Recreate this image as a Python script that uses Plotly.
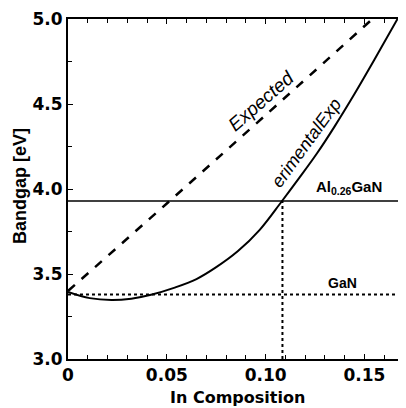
import plotly.graph_objects as go

# Data
exp_x = [0.0, 0.05, 0.10, 0.154]
exp_y = [3.40, 3.915, 4.435, 5.0]

meas_x = [0.0, 0.011, 0.022, 0.032, 0.042, 0.054, 0.065, 0.075, 0.086, 0.097,
          0.108, 0.117, 0.126, 0.135, 0.145, 0.155, 0.1667]
meas_y = [3.395, 3.358, 3.347, 3.355, 3.378, 3.42, 3.47, 3.54, 3.635, 3.76,
          3.925, 4.065, 4.21, 4.37, 4.56, 4.76, 5.0]

gan_bandgap = 3.38
algan_bandgap = 3.93
in_match = 0.1085

x_range = [0.0, 0.17]
y_range = [3.0, 5.0]
x_ticks = [0, 0.05, 0.10, 0.15]
x_ticklabels = ["0", "0.05", "0.10", "0.15"]
y_ticks = [3.0, 3.5, 4.0, 4.5, 5.0]
y_ticklabels = ["3.0", "3.5", "4.0", "4.5", "5.0"]

fig = go.Figure()

fig.add_trace(go.Scatter(x=x_range, y=[gan_bandgap, gan_bandgap], mode="lines",
                         line=dict(color="black", width=2, dash="dot"), showlegend=False))
fig.add_trace(go.Scatter(x=x_range, y=[algan_bandgap, algan_bandgap], mode="lines",
                         line=dict(color="black", width=1.5), showlegend=False))
fig.add_trace(go.Scatter(x=[in_match, in_match], y=[y_range[0], algan_bandgap], mode="lines",
                         line=dict(color="black", width=2, dash="dot"), showlegend=False))
fig.add_trace(go.Scatter(x=exp_x, y=exp_y, mode="lines", line_shape="spline",
                         line=dict(color="black", width=2.5, dash="dash"), showlegend=False))
fig.add_trace(go.Scatter(x=meas_x, y=meas_y, mode="lines", line_shape="spline",
                         line=dict(color="black", width=2), showlegend=False))

fig.add_annotation(x=0.098, y=4.52, text="<i>Expected</i>", showarrow=False, textangle=-41,
                   font=dict(family="Liberation Sans", size=19, color="black"))
fig.add_annotation(x=0.1205, y=4.27, text="<i>erimentalExp</i>", showarrow=False, textangle=-54,
                   font=dict(family="Liberation Sans", size=18, color="black"))
fig.add_annotation(x=0.1424, y=4.01, text="<b>Al<sub>0.26</sub>GaN</b>", showarrow=False,
                   font=dict(family="Liberation Sans", size=15, color="black"))
fig.add_annotation(x=0.139, y=3.447, text="<b>GaN</b>", showarrow=False,
                   font=dict(family="Liberation Sans", size=14, color="black"))

# axis titles
fig.add_annotation(xref="paper", yref="paper", x=0.503, y=-0.113, text="<b>In Composition</b>",
                   showarrow=False, xanchor="center", yanchor="middle",
                   font=dict(family="DejaVu Sans", size=16, color="black"))
fig.add_annotation(xref="paper", yref="paper", x=-0.143, y=0.509, text="<b>Bandgap [eV]</b>",
                   showarrow=False, xanchor="center", yanchor="middle", textangle=-90,
                   font=dict(family="Liberation Sans", size=18, color="black"))

axis_common = dict(showline=True, linecolor="black", linewidth=2, mirror="ticks",
                   ticks="inside", ticklen=5, tickwidth=1, tickcolor="black",
                   showgrid=False, zeroline=False, automargin=False,
                   tickfont=dict(family="DejaVu Sans", size=17, color="black", weight="bold"))

x_alias = {f"{v:.2f}": t for v, t in zip(x_ticks, x_ticklabels)}
y_alias = {f"{v:.1f}": t for v, t in zip(y_ticks, y_ticklabels)}

fig.update_xaxes(range=x_range, tickmode="linear", tick0=x_ticks[0], dtick=x_ticks[1] - x_ticks[0],
                 tickformat=".2f", labelalias=x_alias,
                 minor=dict(tick0=0, dtick=0.01, ticks="inside",
                            ticklen=4, tickcolor="black", tickwidth=1, showgrid=False),
                 **axis_common)
fig.update_yaxes(range=y_range, tickmode="linear", tick0=y_ticks[0], dtick=y_ticks[1] - y_ticks[0],
                 tickformat=".1f", labelalias=y_alias,
                 minor=dict(tick0=3.0, dtick=0.25, ticks="inside",
                            ticklen=4, tickcolor="black", tickwidth=1, showgrid=False),
                 **axis_common)

# page body adds an 8px offset; size/margins compensate so the plot lands where the reference has it
fig.update_layout(width=398, height=400, margin=dict(l=60, r=2, t=11, b=49),
                  plot_bgcolor="white", paper_bgcolor="white")

fig.write_html("out.html")
